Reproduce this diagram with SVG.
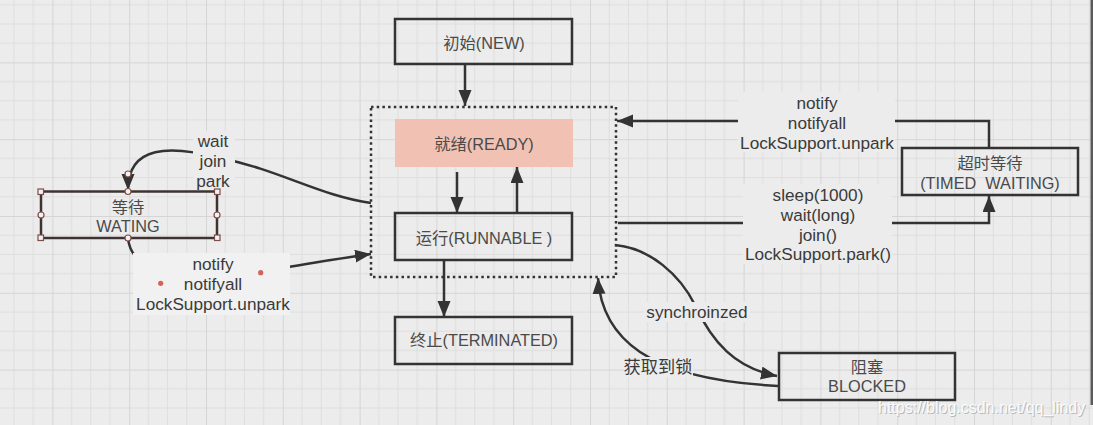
<svg xmlns="http://www.w3.org/2000/svg" width="1093" height="425" viewBox="0 0 1093 425">
<style>
.box{fill:none;stroke:#333;stroke-width:2.5}
.bt{font-family:"Liberation Sans","Noto Sans CJK SC",sans-serif;font-size:16.3px;fill:#4a4a4a;text-anchor:middle}
.lt{font-family:"Liberation Sans","Noto Sans CJK SC",sans-serif;font-size:17.2px;fill:#3a3a3a;text-anchor:middle}
.ln{fill:none;stroke:#333;stroke-width:2.5}
.lb{fill:#ececec}
.h{fill:#f6f0f0;stroke:#7a4e4a;stroke-width:1.2}
</style>
<defs>
<pattern id="grid" x="-24.4" y="-14.4" width="76.8" height="76.8" patternUnits="userSpaceOnUse">
<rect width="76.8" height="76.8" fill="#ececec"/>
<path d="M19.2 0V76.8M38.4 0V76.8M57.6 0V76.8M0 19.2H76.8M0 38.4H76.8M0 57.6H76.8" stroke="#dedede" stroke-width="1"/>
<path d="M0.5 0V76.8M0 0.5H76.8" stroke="#d5d5d5" stroke-width="1"/>
</pattern>
<marker id="ar" markerUnits="userSpaceOnUse" markerWidth="18" markerHeight="14" refX="16" refY="6.5" orient="auto">
<path d="M0 0L16 6.5L0 13z" fill="#333"/>
</marker>
</defs>
<rect width="1093" height="425" fill="url(#grid)"/>
<rect x="1090.5" y="0" width="2.5" height="405" fill="#5a5a5a"/>

<g id="connectors">
<path class="ln" d="M465 64V106" marker-end="url(#ar)"/>
<path class="ln" d="M457 172V213" marker-end="url(#ar)"/>
<path class="ln" d="M517 213V167" marker-end="url(#ar)"/>
<path class="ln" d="M444 260V317" marker-end="url(#ar)"/>
<path class="ln" d="M989 148V121H617" marker-end="url(#ar)"/>
<path class="ln" d="M618 223H989V196" marker-end="url(#ar)"/>
<path class="ln" d="M615 245C650 248 680 275 695 305C712 342 735 368 777 376" marker-end="url(#ar)"/>
<path class="ln" d="M778 386C720 383 670 372 640 352C615 335 600 310 598 278" marker-end="url(#ar)"/>
<path class="ln" d="M371 203C320 196 280 170 220 158C170 145 128 145 128 190" marker-end="url(#ar)"/>
<path class="ln" d="M128 238C130 260 150 275 200 275C260 275 310 262 371 254" marker-end="url(#ar)"/>
</g>

<g id="label-wait">
<rect class="lb" x="193" y="131" width="42" height="60"/>
<text class="lt" x="213" y="147">wait</text>
<text class="lt" x="213" y="167">join</text>
<text class="lt" x="213" y="187">park</text>
</g>
<g id="label-notify-left">
<rect x="133" y="253" width="157" height="62" fill="#f1f1f1"/>
<text class="lt" x="213" y="270">notify</text>
<text class="lt" x="213" y="290">notifyall</text>
<text class="lt" x="213" y="310">LockSupport.unpark</text>
<circle cx="160.7" cy="283.3" r="2.6" fill="#d3625b"/>
<circle cx="260.7" cy="272.7" r="2.6" fill="#d3625b"/>
</g>
<g id="label-notify-right">
<rect class="lb" x="738" y="92" width="157" height="60"/>
<text class="lt" x="817" y="109">notify</text>
<text class="lt" x="817" y="129">notifyall</text>
<text class="lt" x="817" y="149">LockSupport.unpark</text>
</g>
<g id="label-sleep">
<rect class="lb" x="743" y="184" width="149" height="80"/>
<text class="lt" x="818" y="201">sleep(1000)</text>
<text class="lt" x="818" y="221">wait(long)</text>
<text class="lt" x="818" y="241">join()</text>
<text class="lt" x="818" y="260">LockSupport.park()</text>
</g>
<g id="label-sync">
<rect class="lb" x="644" y="302" width="106" height="20"/>
<text class="lt" x="697" y="318">synchroinzed</text>
</g>
<g id="label-lock">
<rect class="lb" x="624" y="357" width="69" height="20"/>
<text class="lt" x="658" y="373">获取到锁</text>
</g>

<g id="node-new">
<rect class="box" x="395" y="19" width="177" height="45"/>
<text class="bt" x="484" y="49">初始(NEW)</text>
</g>
<g id="node-group">
<rect x="371" y="107" width="245" height="170" fill="none" stroke="#333" stroke-width="2.5" stroke-dasharray="2.5 3.2"/>
</g>
<g id="node-ready">
<rect x="395" y="119" width="178" height="48" fill="#f1c2b4"/>
<text class="bt" x="484" y="150">就绪(READY)</text>
</g>
<g id="node-runnable">
<rect class="box" x="395" y="213" width="177" height="47"/>
<text class="bt" x="484" y="244">运行(RUNNABLE )</text>
</g>
<g id="node-terminated">
<rect class="box" x="395" y="317" width="177" height="47"/>
<text class="bt" x="484" y="346">终止(TERMINATED)</text>
</g>
<g id="node-timed">
<rect class="box" x="902" y="148" width="176" height="47"/>
<text class="bt" x="990" y="169">超时等待</text>
<text class="bt" x="990" y="189" xml:space="preserve">(TIMED  WAITING)</text>
</g>
<g id="node-blocked">
<rect class="box" x="779" y="353" width="176" height="47"/>
<text class="bt" x="867" y="373">阻塞</text>
<text class="bt" x="867" y="392">BLOCKED</text>
</g>
<g id="node-waiting">
<rect x="41" y="191.5" width="176" height="46.5" fill="none" stroke="#3e3232" stroke-width="2.5"/>
<text class="bt" x="128" y="213">等待</text>
<text class="bt" x="128" y="232">WATING</text>
<rect class="h" x="38" y="189" width="5.5" height="5.5"/>
<rect class="h" x="214.5" y="189" width="5.5" height="5.5"/>
<rect class="h" x="38" y="235" width="5.5" height="5.5"/>
<rect class="h" x="214.5" y="235" width="5.5" height="5.5"/>
<circle class="h" cx="128" cy="191.5" r="3"/>
<circle class="h" cx="128" cy="238" r="3"/>
<circle class="h" cx="41" cy="215" r="3"/>
<circle class="h" cx="217" cy="215" r="3"/>
<circle class="h" cx="128" cy="174" r="3"/>
</g>

<g id="watermark">
<text x="879" y="414" font-family="Liberation Sans,Arial,sans-serif" font-size="16" fill="#b8b8b8">https://blog.csdn.net/qq_lindy</text>
<text x="878" y="413" font-family="Liberation Sans,Arial,sans-serif" font-size="16" fill="#fbfbfb">https://blog.csdn.net/qq_lindy</text>
</g>
</svg>
